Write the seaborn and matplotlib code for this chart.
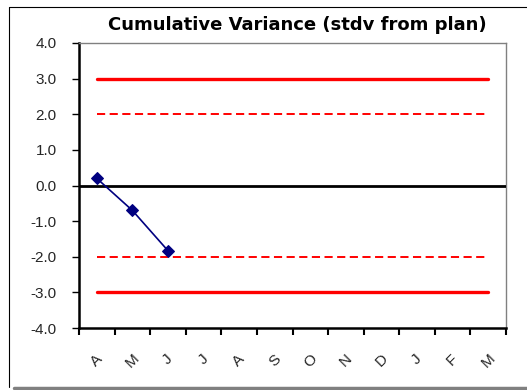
import matplotlib
matplotlib.use("Agg")
import matplotlib.pyplot as plt
import seaborn as sns
import pandas as pd
from matplotlib.lines import Line2D

# ---- data ----
months = ["A", "M", "J", "J", "A", "S", "O", "N", "D", "J", "F", "M"]
variance = [0.2, -0.7, -1.83]
upper_control = [3.0, 3.0, 3.0, 3.0, 3.0, 3.0, 3.0, 3.0, 3.0, 3.0, 3.0, 3.0]
lower_control = [-3.0, -3.0, -3.0, -3.0, -3.0, -3.0, -3.0, -3.0, -3.0, -3.0, -3.0, -3.0]
upper_warning = [2.0, 2.0, 2.0, 2.0, 2.0, 2.0, 2.0, 2.0, 2.0, 2.0, 2.0, 2.0]
lower_warning = [-2.0, -2.0, -2.0, -2.0, -2.0, -2.0, -2.0, -2.0, -2.0, -2.0, -2.0, -2.0]
y_ticks = [-4.0, -3.0, -2.0, -1.0, 0.0, 1.0, 2.0, 3.0, 4.0]
title = "Cumulative Variance (stdv from plan)"

sns.set_theme(style="white")
plt.rcParams["font.family"] = ["Liberation Sans", "DejaVu Sans"]

fig = plt.figure(figsize=(5.27, 3.9), dpi=100)
W, H = 527, 390
ax = fig.add_axes([79 / W, (H - 328) / H, (506 - 79) / W, (328 - 43) / H])

pos = list(range(len(months)))
df_lim = pd.DataFrame({"pos": pos, "uc": upper_control, "lc": lower_control,
                       "uw": upper_warning, "lw": lower_warning})
for col in ["uc", "lc"]:
    sns.lineplot(data=df_lim, x="pos", y=col, ax=ax, color="#ff0000", lw=2.4)
for col in ["uw", "lw"]:
    sns.lineplot(data=df_lim, x="pos", y=col, ax=ax, color="#ff0000", lw=1.4,
                 dashes=False, linestyle=(0, (4.2, 2.3)))
ax.axhline(0, color="black", lw=2.0, zorder=3)

df_var = pd.DataFrame({"pos": pos[:len(variance)], "v": variance})
sns.lineplot(data=df_var, x="pos", y="v", ax=ax, color="#000080", lw=1.2,
             marker="D", markersize=6.5, markeredgecolor="#000080", zorder=4)

ax.set_xlim(-0.5, len(months) - 0.5)
ax.set_ylim(-4, 4)
ax.set_yticks(y_ticks)
ax.set_yticklabels([f"{t:.1f}" for t in y_ticks], fontsize=11)
ax.set_xticks([p - 0.5 for p in pos] + [len(months) - 0.5])
ax.set_xticklabels([])
ax.set_xticks(pos, minor=True)
ax.set_xticklabels(months, minor=True, rotation=45, fontsize=11)
ax.tick_params(axis="x", which="minor", length=0, pad=17)
ax.tick_params(axis="x", which="major", length=5, width=1.5, color="black", direction="out", bottom=True)
ax.tick_params(axis="y", length=5, width=1.0, color="black", direction="out", pad=11, left=True)
ax.set_xlabel("")
ax.set_ylabel("")
ax.grid(False)

for s in ["left", "bottom"]:
    ax.spines[s].set_color("black")
    ax.spines[s].set_linewidth(1.8)
for s in ["top", "right"]:
    ax.spines[s].set_color("#808080")
    ax.spines[s].set_linewidth(1.0)

fig.text(297 / W, (H - 25) / H, title, ha="center", va="center",
         fontsize=13, fontweight="bold", color="black", family="DejaVu Sans")

# chart-area border
fig.add_artist(Line2D([8.5 / W, 1.0], [(H - 7) / H, (H - 7) / H], color="black", lw=0.8))
fig.add_artist(Line2D([8.5 / W, 8.5 / W], [(H - 7) / H, (H - 387) / H], color="black", lw=0.8))
fig.add_artist(Line2D([14 / W, 1.0], [(H - 388) / H, (H - 388) / H], color="#808080", lw=2.5))

fig.savefig("out.png", dpi=100)
